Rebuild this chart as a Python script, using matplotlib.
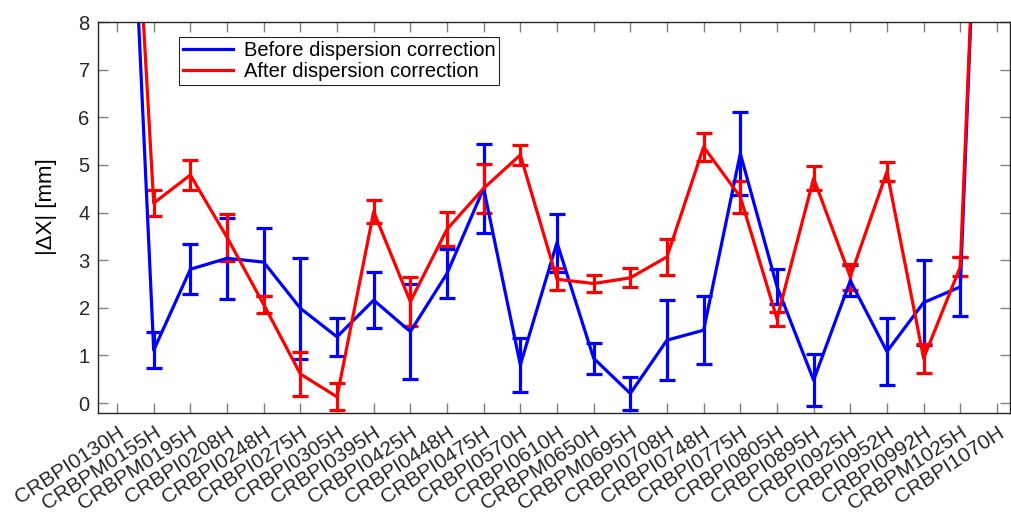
import numpy as np
import matplotlib.pyplot as plt
from matplotlib.lines import Line2D

plt.rcParams['font.family'] = ['Liberation Sans', 'DejaVu Sans']

bpms = ['CRBPI0130H', 'CRBPM0155H', 'CRBPM0195H', 'CRBPI0208H', 'CRBPI0248H',
        'CRBPI0275H', 'CRBPI0305H', 'CRBPI0395H', 'CRBPI0425H', 'CRBPI0448H',
        'CRBPI0475H', 'CRBPI0570H', 'CRBPI0610H', 'CRBPM0650H', 'CRBPM0695H',
        'CRBPI0708H', 'CRBPI0748H', 'CRBPI0775H', 'CRBPI0805H', 'CRBPI0895H',
        'CRBPI0925H', 'CRBPI0952H', 'CRBPI0992H', 'CRBPM1025H', 'CRBPI1070H']

# |dX| before correction and its error
before = [17.9, 1.11, 2.81, 3.04, 2.96, 1.99, 1.39, 2.16, 1.50, 2.72,
          4.51, 0.80, 3.37, 0.94, 0.20, 1.32, 1.53, 5.24, 2.45, 0.48,
          2.57, 1.08, 2.11, 2.44, 22.0]
before_err = [0.5, 0.38, 0.52, 0.85, 0.72, 1.06, 0.40, 0.59, 1.00, 0.52,
              0.93, 0.57, 0.61, 0.33, 0.34, 0.84, 0.72, 0.87, 0.37, 0.55,
              0.33, 0.71, 0.90, 0.62, 0.5]

# |dX| after correction and its error
after = [17.8, 4.20, 4.79, 3.48, 2.07, 0.61, 0.13, 4.02, 2.13, 3.65,
         4.51, 5.21, 2.60, 2.51, 2.63, 3.07, 5.38, 4.33, 1.77, 4.72,
         2.65, 4.86, 0.94, 2.86, 21.7]
after_err = [0.3, 0.28, 0.32, 0.50, 0.18, 0.47, 0.28, 0.24, 0.52, 0.36,
             0.52, 0.22, 0.23, 0.17, 0.20, 0.38, 0.30, 0.33, 0.15, 0.25,
             0.28, 0.20, 0.30, 0.20, 0.3]

x = np.arange(1, len(bpms) + 1)

fig = plt.figure(figsize=(10.12, 5.16), dpi=100)
ax = fig.add_axes([0.0968, 0.1996, 0.901, 0.7574])

ax.errorbar(x, before, yerr=before_err, color='#0000ff', lw=2.3,
            elinewidth=2.3, capsize=6, capthick=2.3)
ax.errorbar(x, after, yerr=after_err, color='#ff0000', lw=2.3,
            elinewidth=2.3, capsize=6, capthick=2.3)

ax.set_xlim(0.48, 25.35)
ax.set_ylim(-0.21, 8)
ax.set_yticks(range(0, 9))
ax.set_xticks(x)
ax.set_xticklabels(bpms, rotation=33, ha='right', va='top',
                   rotation_mode='anchor', fontsize=15)
ax.set_ylabel('|\u0394X| [mm]', fontsize=16)
ax.yaxis.set_label_coords(-0.045, 0.527)

ax.tick_params(direction='in', length=7, width=1, color='#808080',
               top=True, right=True, labelcolor='#262626', pad=5)
ax.tick_params(axis='y', labelsize=14.5, pad=6)
ax.tick_params(axis='x', pad=7)
for s in ax.spines.values():
    s.set_color('#262626')
    s.set_linewidth(1)

handles = [Line2D([], [], color='#0000ff', lw=2.3),
           Line2D([], [], color='#ff0000', lw=2.3)]
leg = ax.legend(handles, ['Before dispersion correction', 'After dispersion correction'],
                loc='upper left', bbox_to_anchor=(0.089, 0.962), borderaxespad=0,
                fontsize=14.5, fancybox=False, framealpha=1, edgecolor='#262626',
                handlelength=2.5, labelspacing=0.1, borderpad=0.2,
                handletextpad=0.5)
leg.get_frame().set_linewidth(0.8)

fig.savefig('out.png', dpi=100)
